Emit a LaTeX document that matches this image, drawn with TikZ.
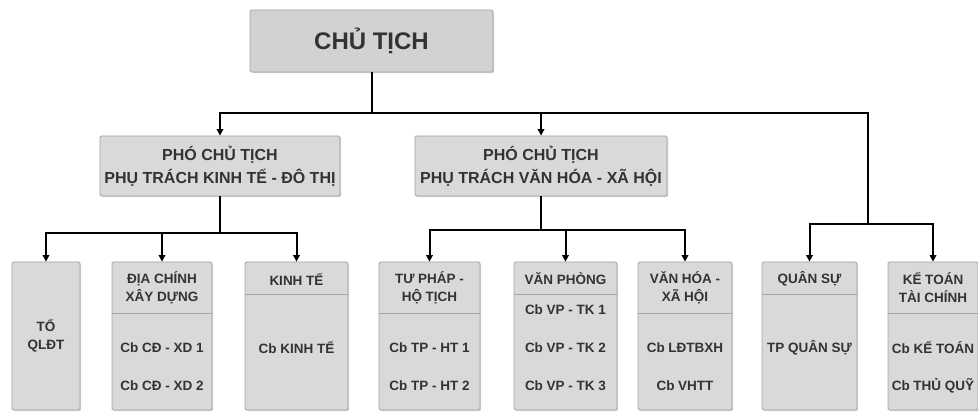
\documentclass[tikz,border=0pt]{standalone}
\usepackage{fontspec}
\setmainfont{Liberation Sans}
\usetikzlibrary{arrows.meta,shadows}
\definecolor{boxfill}{HTML}{D9D9D9}
\definecolor{topfill}{HTML}{D2D2D2}
\definecolor{boxline}{HTML}{A3A3A3}
\definecolor{boxink}{HTML}{333333}

\begin{document}
\begin{tikzpicture}[
  x=1pt,
  y=-1pt,
  every node/.style={font=\bfseries, text=boxink},
  post/.style={draw=boxline, fill=boxfill, line width=0.8pt,
               rounded corners=1.5pt,
               drop shadow={shadow xshift=1.2pt, shadow yshift=-1.2pt,
                            opacity=0.35}},
  unit/.style={post, minimum height=148pt, inner sep=0pt},
  head/.style={align=center, inner sep=0pt,
               font=\bfseries\fontsize{13.5}{18}\selectfont},
  item/.style={inner sep=0pt, font=\bfseries\fontsize{13.5}{16}\selectfont},
  divide/.style={draw=boxline, line width=0.8pt},
  wire/.style={black, line width=2pt},
  feed/.style={wire, -{Triangle[length=6.5pt, width=6.5pt]}}
]
  \useasboundingbox (0,0) rectangle (978,414);

  %% ---- chủ tịch và hai phó chủ tịch --------------------------------------
  \node[post, fill=topfill, minimum width=243pt, minimum height=62pt,
        font=\bfseries\fontsize{24}{28}\selectfont] (chu) at (371.5,41) {CHỦ TỊCH};

  \node[post, minimum width=240pt, minimum height=60pt, align=center,
        font=\bfseries\fontsize{16}{23}\selectfont] (pct1) at (220,166)
    {PHÓ CHỦ TỊCH\\PHỤ TRÁCH KINH TẾ - ĐÔ THỊ};
  \node[post, minimum width=252pt, minimum height=60pt, align=center,
        font=\bfseries\fontsize{16}{23}\selectfont] (pct2) at (541,166)
    {PHÓ CHỦ TỊCH\\PHỤ TRÁCH VĂN HÓA - XÃ HỘI};

  %% ---- các bộ phận ở hàng dưới -------------------------------------------
  \foreach \name/\cx/\w in {to/46/68, dc/162/100, kt/296.5/103, tp/429.5/101,
                            vp/565.5/103, vh/685/94, qs/809.5/95, ktc/933/90}
    \node[unit, minimum width=\w pt] (\name) at (\cx,336) {};

  %% vạch ngăn phần tiêu đề: 313 cho hai dòng, 294 cho một dòng
  \foreach \name/\ly in {dc/313, kt/294, tp/313, vp/294, vh/313, qs/294, ktc/313}
    \draw[divide] (\name.west |- 0,\ly) -- (\name.east |- 0,\ly);

  \node[head] (to-t) at (to) {TỔ\\QLĐT};

  \node[head] (dc-h) at (162,288) {ĐỊA CHÍNH\\XÂY DỰNG};
  \node[item] (dc-1) at (162,348) {Cb CĐ - XD 1};
  \node[item] (dc-2) at (162,386) {Cb CĐ - XD 2};

  \node[head] (kt-h) at (296.5,279) {KINH TẾ};
  \node[item] (kt-1) at (296.5,348) {Cb KINH TẾ};

  \node[head] (tp-h) at (429.5,288) {TƯ PHÁP -\\HỘ TỊCH};
  \node[item] (tp-1) at (429.5,348) {Cb TP - HT 1};
  \node[item] (tp-2) at (429.5,386) {Cb TP - HT 2};

  \node[head] (vp-h) at (565.5,279) {VĂN PHÒNG};
  \node[item] (vp-1) at (565.5,310) {Cb VP - TK 1};
  \node[item] (vp-2) at (565.5,348) {Cb VP - TK 2};
  \node[item] (vp-3) at (565.5,386) {Cb VP - TK 3};

  \node[head] (vh-h) at (685,288) {VĂN HÓA -\\XÃ HỘI};
  \node[item] (vh-1) at (685,348) {Cb LĐTBXH};
  \node[item] (vh-2) at (685,386) {Cb VHTT};

  \node[head] (qs-h) at (809.5,279) {QUÂN SỰ};
  \node[item] (qs-1) at (809.5,348) {TP QUÂN SỰ};

  \node[head] (ktc-h) at (933,288) {KẾ TOÁN\\TÀI CHÍNH};
  \node[item] (ktc-1) at (933,348) {Cb KẾ TOÁN};
  \node[item] (ktc-2) at (933,386) {Cb THỦ QUỸ};

  %% ---- đường nối ---------------------------------------------------------
  \coordinate (hub) at (chu.south |- 0,113);
  \coordinate (rhub) at (868,224);
  \coordinate (lhub) at (pct1.south |- 0,233);
  \coordinate (mhub) at (pct2.south |- 0,230);

  \draw[wire] (chu.south) -- (hub);
  \draw[feed] (hub) -| (pct1.north);
  \draw[feed] (hub) -| (pct2.north);
  \draw[wire] (hub) -| (rhub);

  \draw[wire] (pct1.south) -- (lhub);
  \foreach \name in {to, dc, kt}
    \draw[feed] (lhub) -| (\name.north);

  \draw[wire] (pct2.south) -- (mhub);
  \foreach \name in {tp, vp, vh}
    \draw[feed] (mhub) -| (\name.north);

  \foreach \name in {qs, ktc}
    \draw[feed] (rhub) -| (\name.north);
\end{tikzpicture}
\end{document}
